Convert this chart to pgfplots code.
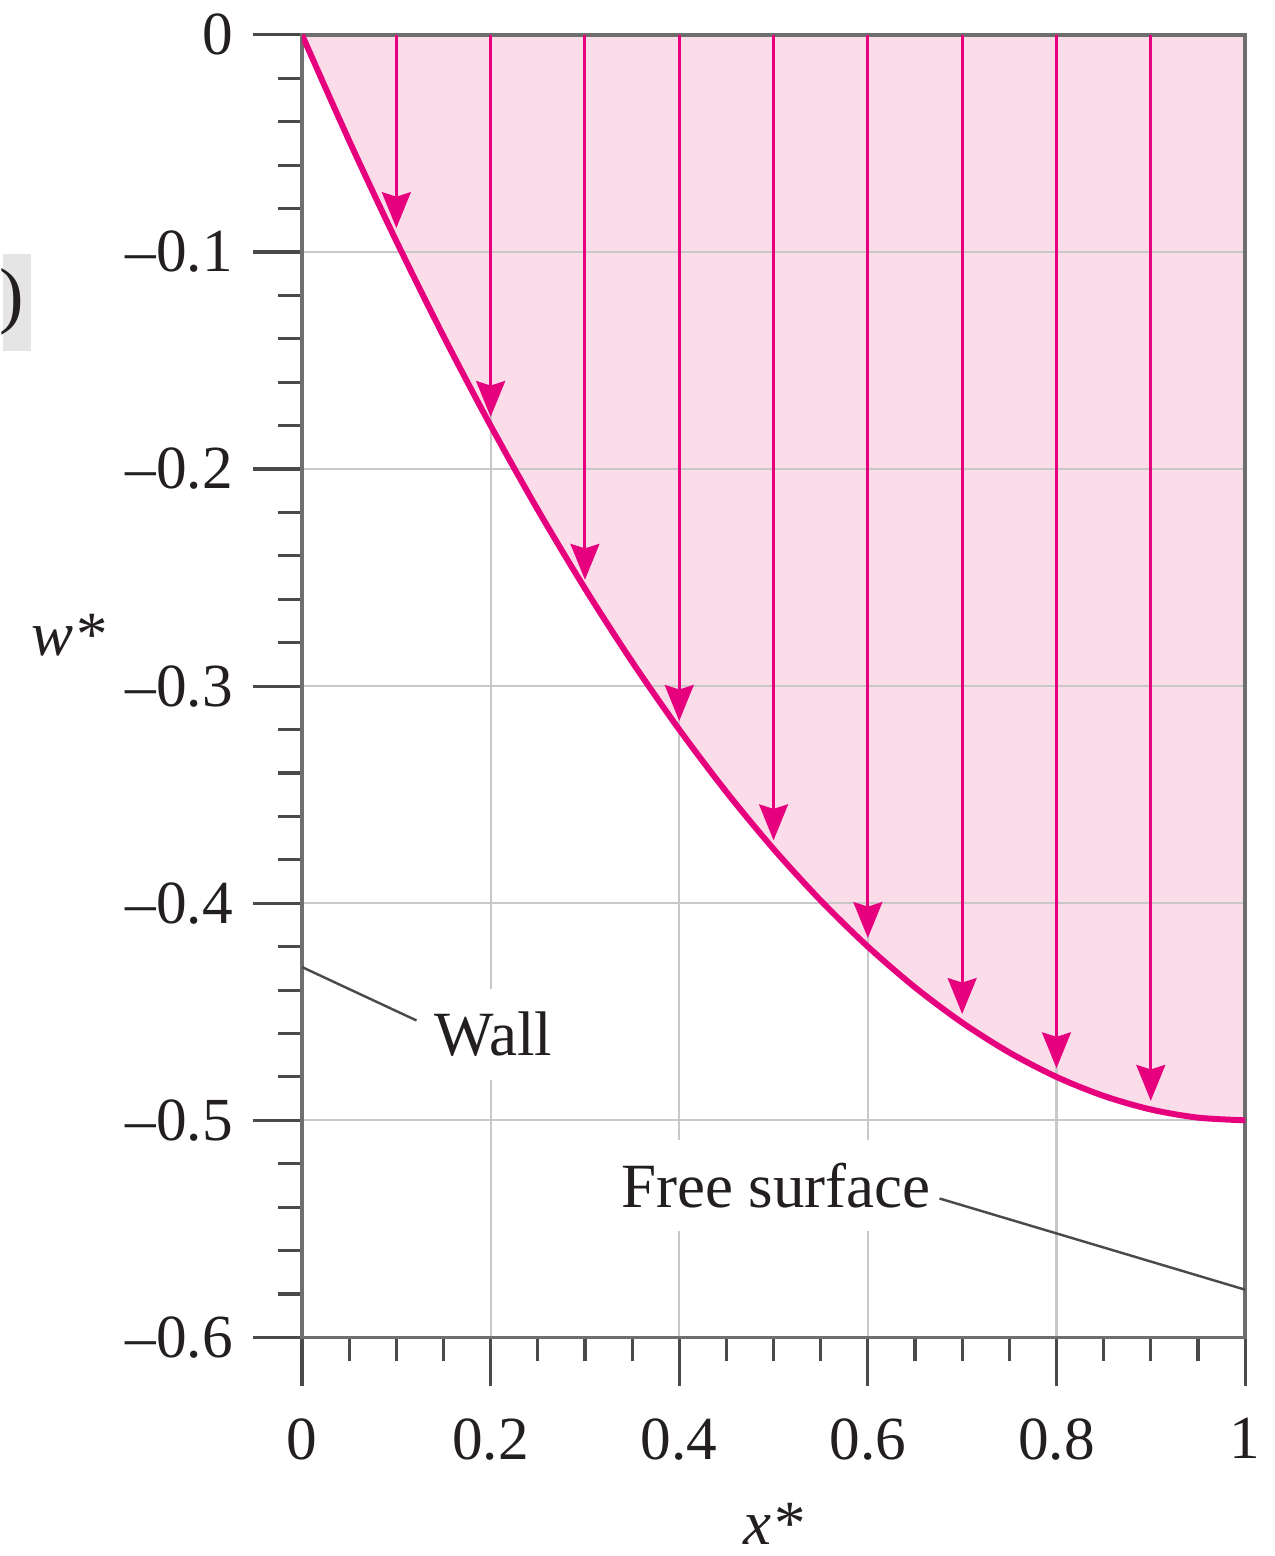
\documentclass[border=0pt]{standalone}
\usepackage{fontspec}
\setmainfont{Liberation Serif}
\usepackage{pgfplots}
\pgfplotsset{compat=1.18}
\usetikzlibrary{arrows.meta}
\definecolor{mag}{HTML}{E6007E}
\definecolor{pinkfill}{HTML}{FBDDE9}
\definecolor{axgray}{HTML}{6E6E6E}
\definecolor{tickgray}{HTML}{4A4A4A}
\definecolor{gridgray}{HTML}{C8C8C8}
\definecolor{txt}{HTML}{231F20}
\begin{document}
\begin{tikzpicture}[font=\fontsize{18}{22}\selectfont]
\begin{axis}[
  set layers,
  scale only axis, width=9.47cm, height=13.08cm,
  xmin=0, xmax=1, ymin=-0.6, ymax=0,
  xtick={0,0.2,0.4,0.6,0.8,1},
  xticklabels={0,0.2,0.4,0.6,0.8,1},
  ytick={-0.6,-0.5,-0.4,-0.3,-0.2,-0.1,0},
  yticklabels={\textendash0.6,\textendash0.5,\textendash0.4,\textendash0.3,\textendash0.2,\textendash0.1,0},
  minor x tick num=3, minor y tick num=4,
  tick align=outside, tick pos=left,
  major tick length=0.49cm, minor tick length=0.24cm,
  every tick/.style={tickgray, line width=0.9pt},
  axis line style={axgray, line width=1.1pt},
  grid=major, major grid style={gridgray, line width=0.6pt},
  ticklabel style={font=\fontsize{17.5}{21}\selectfont, text=txt},
  xticklabel style={yshift=-0.2cm},
  yticklabel style={xshift=-0.08cm},
  xlabel={\textit{x*}}, ylabel={\textit{w*}},
  label style={font=\fontsize{18}{22}\selectfont, text=txt},
  xlabel style={at={(axis description cs:0.5,-0.1430)}, anchor=center},
  ylabel style={at={(axis description cs:-0.248,0.539)}, anchor=center, rotate=-90},
]
\addplot[on layer=axis background, fill=pinkfill, draw=none] coordinates {
(0,0) (0.05,-0.04875) (0.1,-0.095) (0.15,-0.13875) (0.2,-0.18) (0.25,-0.21875)
(0.3,-0.255) (0.35,-0.28875) (0.4,-0.32) (0.45,-0.34875) (0.5,-0.375)
(0.55,-0.39875) (0.6,-0.42) (0.65,-0.43875) (0.7,-0.455) (0.75,-0.46875)
(0.8,-0.48) (0.85,-0.48875) (0.9,-0.495) (0.95,-0.49875) (1,-0.5)
} \closedcycle;
\addplot[mag, line width=0.85pt, -{Stealth[length=3.6mm,width=2.9mm,inset=0.45mm]},
  quiver={u=0, v=\thisrow{v}}] table {
x y v
0.1 0 -0.089
0.2 0 -0.176
0.3 0 -0.251
0.4 0 -0.316
0.5 0 -0.371
0.6 0 -0.416
0.7 0 -0.451
0.8 0 -0.476
0.9 0 -0.491
};
\addplot[mag, line width=1.7pt, smooth] coordinates {
(0,0) (0.05,-0.04875) (0.1,-0.095) (0.15,-0.13875) (0.2,-0.18) (0.25,-0.21875)
(0.3,-0.255) (0.35,-0.28875) (0.4,-0.32) (0.45,-0.34875) (0.5,-0.375)
(0.55,-0.39875) (0.6,-0.42) (0.65,-0.43875) (0.7,-0.455) (0.75,-0.46875)
(0.8,-0.48) (0.85,-0.48875) (0.9,-0.495) (0.95,-0.49875) (1,-0.5)
};
\addplot[tickgray, line width=0.7pt] coordinates {(0,-0.4294) (0.1214,-0.454)};
\addplot[tickgray, line width=0.7pt] coordinates {(0.676,-0.536) (1,-0.578)};
\node[fill=white, inner xsep=0.6mm, inner ysep=2.3mm, text=txt] at (axis cs:0.203,-0.4604) {Wall};
\node[fill=white, inner xsep=0.5mm, inner ysep=2.3mm, text=txt] at (axis cs:0.5026,-0.530) {Free surface};
\end{axis}
\fill[gray!20] (-3.0,9.91) rectangle (-2.72,10.88);
\node[anchor=east, inner sep=0, text=txt, font=\fontsize{21}{24}\selectfont] at (-2.78,10.4) {)};
\path (-3.0,-2.13) rectangle (9.77,13.43);
\end{tikzpicture}
\end{document}
